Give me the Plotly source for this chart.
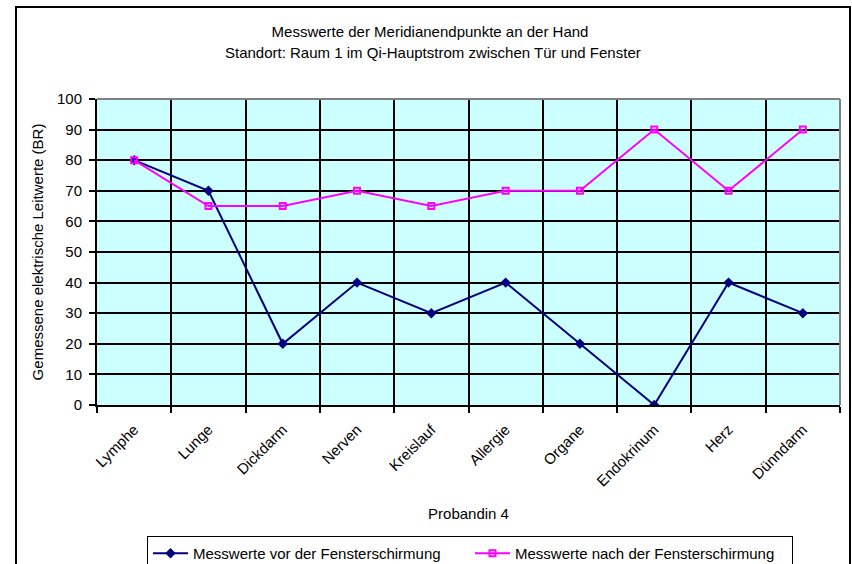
import plotly.graph_objects as go

categories = ["Lymphe", "Lunge", "Dickdarm", "Nerven", "Kreislauf", "Allergie",
              "Organe", "Endokrinum", "Herz", "Dünndarm"]
vor = [80, 70, 20, 40, 30, 40, 20, 0, 40, 30]
nach = [80, 65, 65, 70, 65, 70, 70, 90, 70, 90]
y_ticks = [0, 10, 20, 30, 40, 50, 60, 70, 80, 90, 100]

FONT = "Liberation Sans, Arial, sans-serif"

fig = go.Figure()
fig.add_trace(go.Scatter(
    x=categories, y=vor, mode="lines+markers",
    name="Messwerte vor der Fensterschirmung",
    line=dict(color="#000080", width=2),
    marker=dict(symbol="diamond", size=8, color="#000080"),
))
fig.add_trace(go.Scatter(
    x=categories, y=nach, mode="lines+markers",
    name="Messwerte nach der Fensterschirmung",
    line=dict(color="#FF00FF", width=2),
    marker=dict(symbol="square-open", size=6, color="#FF00FF", line=dict(width=2)),
))

W, H = 852, 564
L, R, T, B = 97, 12, 99, 159
pw, ph = W - L - R, H - T - B

def px(x):
    return (x - L) / pw

def py(y):
    return (H - B - y) / ph

shapes = [
    dict(type="line", xref="paper", yref="paper", x0=0, x1=1, y0=1, y1=1,
         line=dict(color="#808080", width=2)),
    dict(type="line", xref="paper", yref="paper", x0=1, x1=1, y0=0, y1=1,
         line=dict(color="#808080", width=2)),
    dict(type="rect", xref="paper", yref="paper",
         x0=px(16), x1=px(850), y0=py(600), y1=py(7),
         line=dict(color="black", width=2), layer="above"),
]

annotations = [
    dict(text="Standort: Raum 1 im Qi-Hauptstrom zwischen Tür und Fenster",
         xref="paper", yref="paper", x=px(433), y=py(52),
         xanchor="center", yanchor="middle", showarrow=False,
         font=dict(family=FONT, size=15)),
]

fig.update_layout(
    width=W, height=H,
    margin=dict(l=L, r=R, t=T, b=B, autoexpand=False),
    paper_bgcolor="white",
    plot_bgcolor="#CCFFFF",
    font=dict(family=FONT, size=15, color="black"),
    title=dict(
        text="Messwerte der Meridianendpunkte an der Hand",
        x=430 / W, xanchor="center", y=1 - 32 / H, yanchor="middle",
        font=dict(family=FONT, size=15),
    ),
    xaxis=dict(
        type="category", categoryorder="array", categoryarray=categories,
        tickson="boundaries", ticks="outside", ticklen=6, tickcolor="black", tickwidth=2,
        showgrid=True, gridcolor="black", gridwidth=2,
        showline=True, linecolor="black", linewidth=2,
        tickangle=-45, tickfont=dict(size=15), ticklabelstandoff=8,
        title=dict(text="Probandin 4", font=dict(size=15), standoff=20),
        range=[-0.5, 9.5],
    ),
    yaxis=dict(
        range=[0, 100], tickvals=y_ticks,
        ticks="outside", ticklen=6, tickcolor="black", tickwidth=2,
        showgrid=True, gridcolor="black", gridwidth=1.5,
        showline=True, linecolor="black", linewidth=2,
        zeroline=False,
        tickfont=dict(size=15), ticklabelstandoff=4,
        title=dict(text="Gemessene elektrische Leitwerte (BR)", font=dict(size=15), standoff=10),
    ),
    legend=dict(
        orientation="h", x=px(470), xanchor="center", y=py(536), yanchor="top",
        bordercolor="black", borderwidth=1, bgcolor="white",
        font=dict(size=15), itemwidth=35, entrywidth=272,
    ),
    shapes=shapes,
    annotations=annotations,
)

fig.write_html("out.html", config={"displayModeBar": False},
               post_script="document.body.style.margin='0';")
